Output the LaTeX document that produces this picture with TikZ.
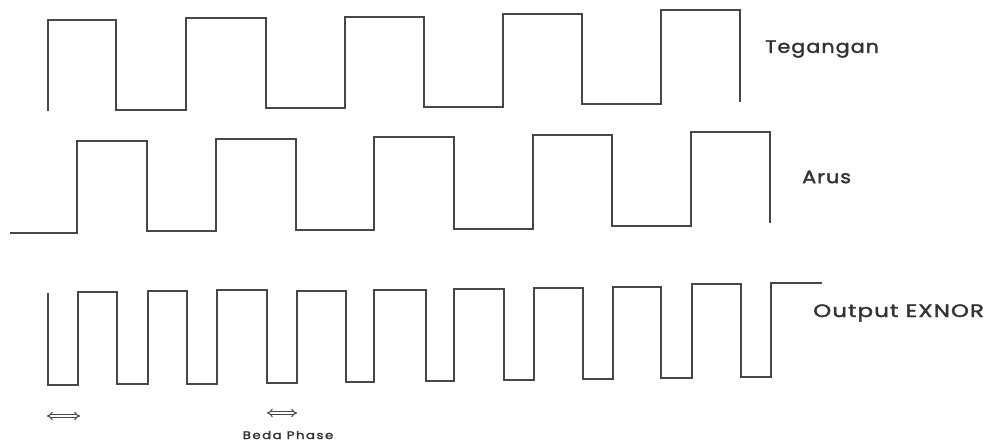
\documentclass[tikz,border=0pt]{standalone}
\usepackage{fontspec}
\setmainfont{Poppins}
\usetikzlibrary{arrows.meta}
\tikzset{
  wave/.style={draw=black!72, line width=1.4pt, line join=miter},
  lbl/.style={text=black!80, font=\fontsize{18}{20}\selectfont\addfontfeature{LetterSpace=5,FakeBold=1.8}, inner sep=0pt, anchor=west},
  smalllbl/.style={text=black!80, font=\fontsize{11}{12}\selectfont\addfontfeature{LetterSpace=12,FakeBold=2}, inner sep=0pt},
  phasearrow/.style={draw=black!72, double, double distance=1.8pt, line width=1pt, {Implies[]}-{Implies[]}}
}
\begin{document}
\begin{tikzpicture}[x=1pt,y=-1pt]
\useasboundingbox[fill=white] (0,0) rectangle (990,442);
% Tegangan
\draw[wave] (48,111) -- (48,20) -- (116,20) -- (116,110) -- (186,110) -- (186,18) -- (266,18) -- (266,108) -- (345,108) -- (345,17) -- (424,17) -- (424,107) -- (503,107) -- (503,14) -- (582,14) -- (582,104) -- (661,104) -- (661,10) -- (740,10) -- (740,102);
% Arus
\draw[wave] (10,233) -- (77,233) -- (77,141) -- (147,141) -- (147,231) -- (216,231) -- (216,139) -- (296,139) -- (296,230) -- (374,230) -- (374,137) -- (454,137) -- (454,229) -- (533,229) -- (533,135) -- (612,135) -- (612,226) -- (691,226) -- (691,132) -- (770,132) -- (770,223);
% Output EXNOR
\draw[wave] (48,293) -- (48,385) -- (78,385) -- (78,292) -- (117,292) -- (117,384) -- (148,384) -- (148,291) -- (187,291) -- (187,384) -- (217,384) -- (217,290) -- (267,290) -- (267,383) -- (297,383) -- (297,291) -- (346,291) -- (346,382) -- (374,382) -- (374,290) -- (426,290) -- (426,381) -- (454,381) -- (454,289) -- (504,289) -- (504,380) -- (534,380) -- (534,288) -- (583,288) -- (583,379) -- (613,379) -- (613,287) -- (661,287) -- (661,378) -- (692,378) -- (692,284) -- (741,284) -- (741,377) -- (771,377) -- (771,283) -- (822,283);
% labels
\node[lbl, xscale=1.15] (teg) at (765,49) {Tegangan};
\node[lbl, xscale=1.15] (arus) at (802,177) {Arus};
\node[lbl, xscale=1.27] (exnor) at (813,313) {Output EXNOR};
% phase arrows
\coordinate (a1l) at (47,416);
\coordinate (a1r) at (80,416);
\coordinate (a2l) at (267,413);
\coordinate (a2r) at (297,413);
\draw[phasearrow] (a1l) -- (a1r);
\draw[phasearrow] (a2l) -- (a2r);
\node[smalllbl, xscale=1.2] (beda) at (288,435) {Beda Phase};
\end{tikzpicture}
\end{document}
